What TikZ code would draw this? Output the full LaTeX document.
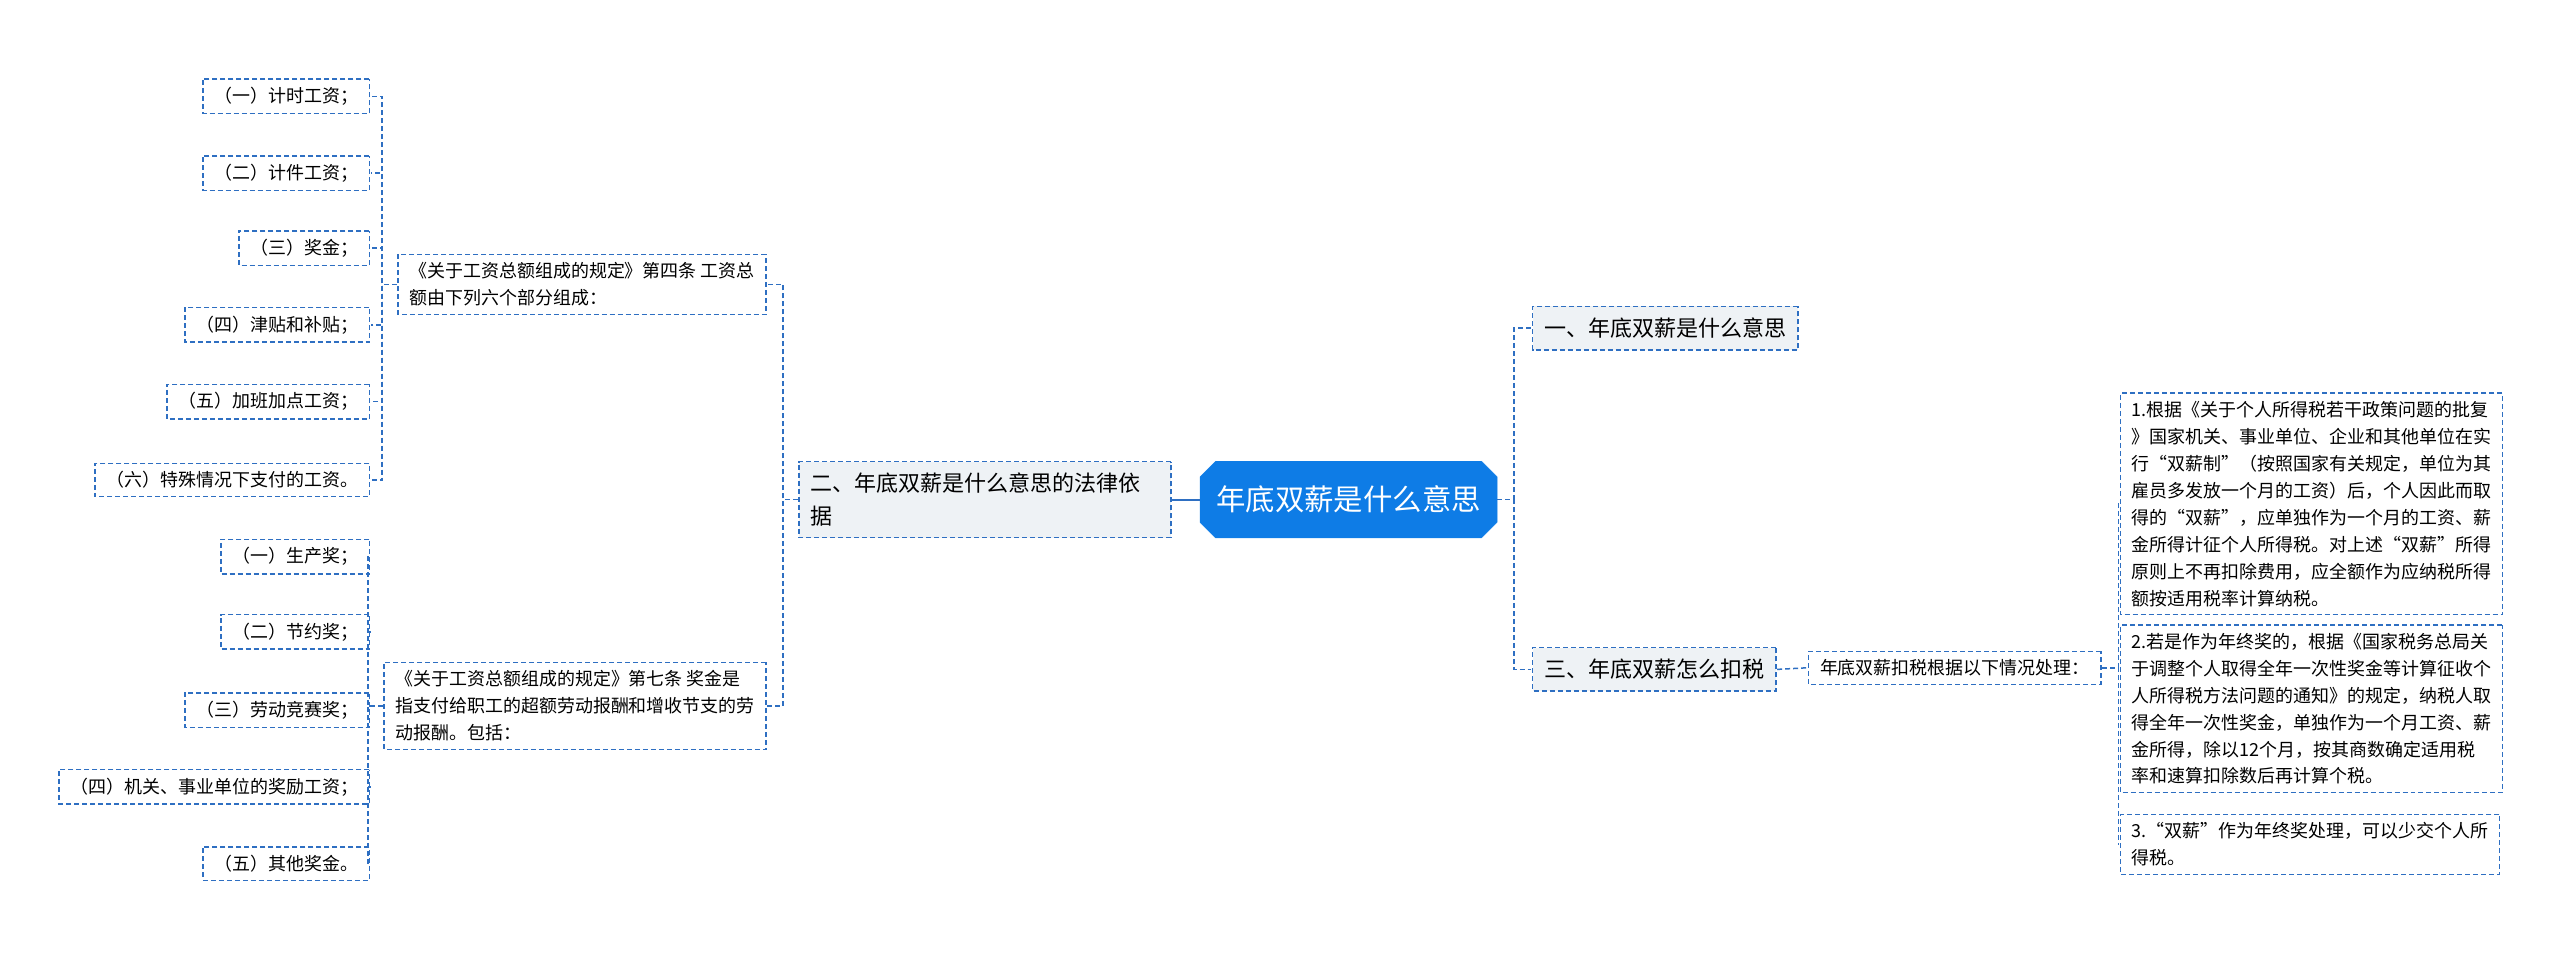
\documentclass[tikz,border=0pt]{standalone}
\usepackage{fontspec}
\setmainfont{Noto Sans CJK SC}
\usetikzlibrary{shapes.misc}
\definecolor{linkblue}{HTML}{2E6FC2}
\definecolor{rootblue}{HTML}{0E7CE6}
\definecolor{topgray}{HTML}{EEF2F5}
\tikzset{
  link/.style={draw=linkblue,line width=1.5pt,dash pattern=on 5pt off 3pt},
  leaf/.style={link,inner xsep=7pt,inner ysep=5pt,font=\fontsize{11}{16.5}\selectfont,align=left},
  topic/.style={link,fill=topgray,inner xsep=7pt,inner ysep=7pt,font=\fontsize{13.5}{20}\selectfont,align=left},
}
\begin{document}
\begin{tikzpicture}[x=1.633pt,y=-1.633pt,every node/.append style={scale=1.633}]
  \useasboundingbox (0,0) rectangle (1568,587);
  % centre
  \node[chamfered rectangle,chamfered rectangle xsep=6pt,fill=rootblue,draw=rootblue,
        text=white,font=\fontsize{18}{22}\selectfont,minimum height=47pt,inner xsep=4pt]
        (root) at (826,306) {年底双薪是什么意思};
  % right side
  \node[topic,anchor=west] (meaning) at (938,201) {一、年底双薪是什么意思};
  \node[topic,anchor=west] (tax) at (938,410) {三、年底双薪怎么扣税};
  \node[leaf,anchor=west] (taxcase) at (1107,409) {年底双薪扣税根据以下情况处理：};
  \node[leaf,anchor=north west] (caseA) at (1298,240) {1.根据《关于个人所得税若干政策问题的批复\\》国家机关、事业单位、企业和其他单位在实\\行“双薪制”（按照国家有关规定，单位为其\\雇员多发放一个月的工资）后，个人因此而取\\得的“双薪”，应单独作为一个月的工资、薪\\金所得计征个人所得税。对上述“双薪”所得\\原则上不再扣除费用，应全额作为应纳税所得\\额按适用税率计算纳税。};
  \node[leaf,anchor=north west] (caseB) at (1298,382) {2.若是作为年终奖的，根据《国家税务总局关\\于调整个人取得全年一次性奖金等计算征收个\\人所得税方法问题的通知》的规定，纳税人取\\得全年一次性奖金，单独作为一个月工资、薪\\金所得，除以12个月，按其商数确定适用税\\率和速算扣除数后再计算个税。};
  \node[leaf,anchor=north west] (caseC) at (1298,498) {3.“双薪”作为年终奖处理，可以少交个人所\\得税。};
  \foreach \n in {meaning,tax}
    \draw[link] (root.east) -- ++(10,0) |- (\n.west);
  \draw[link] (tax.east) -- (taxcase.west);
  \foreach \n in {caseA,caseB,caseC}
    \draw[link] (taxcase.east) -- ++(10,0) |- (\n.west);
  % left side
  \node[topic,anchor=east,text width=214pt] (law) at (718,306) {二、年底双薪是什么意思的法律依\\据};
  \draw[draw=linkblue,line width=2pt] (root.west) -- (law.east);
  \node[leaf,anchor=north east] (wage) at (470,155) {《关于工资总额组成的规定》第四条 工资总\\额由下列六个部分组成：};
  \node[leaf,anchor=north east] (bonus) at (470,405) {《关于工资总额组成的规定》第七条 奖金是\\指支付给职工的超额劳动报酬和增收节支的劳\\动报酬。包括：};
  \foreach \n in {wage,bonus}
    \draw[link] (law.west) -- ++(-9,0) |- (\n.east);
  \foreach \i/\y/\t in {1/59/（一）计时工资；,2/106/（二）计件工资；,3/152/（三）奖金；,
                        4/199/（四）津贴和补贴；,5/246/（五）加班加点工资；,6/294/（六）特殊情况下支付的工资。}{
    \node[leaf,anchor=east] (wage\i) at (227,\y) {\t};
    \draw[link] (wage.west) -- ++(-9,0) |- (wage\i.east);
  }
  \foreach \i/\y/\t in {1/341/（一）生产奖；,2/387/（二）节约奖；,3/435/（三）劳动竞赛奖；,
                        4/482/（四）机关、事业单位的奖励工资；,5/529/（五）其他奖金。}{
    \node[leaf,anchor=east] (bonus\i) at (227,\y) {\t};
    \draw[link] (bonus.west) -- ++(-9,0) |- (bonus\i.east);
  }
\end{tikzpicture}
\end{document}
